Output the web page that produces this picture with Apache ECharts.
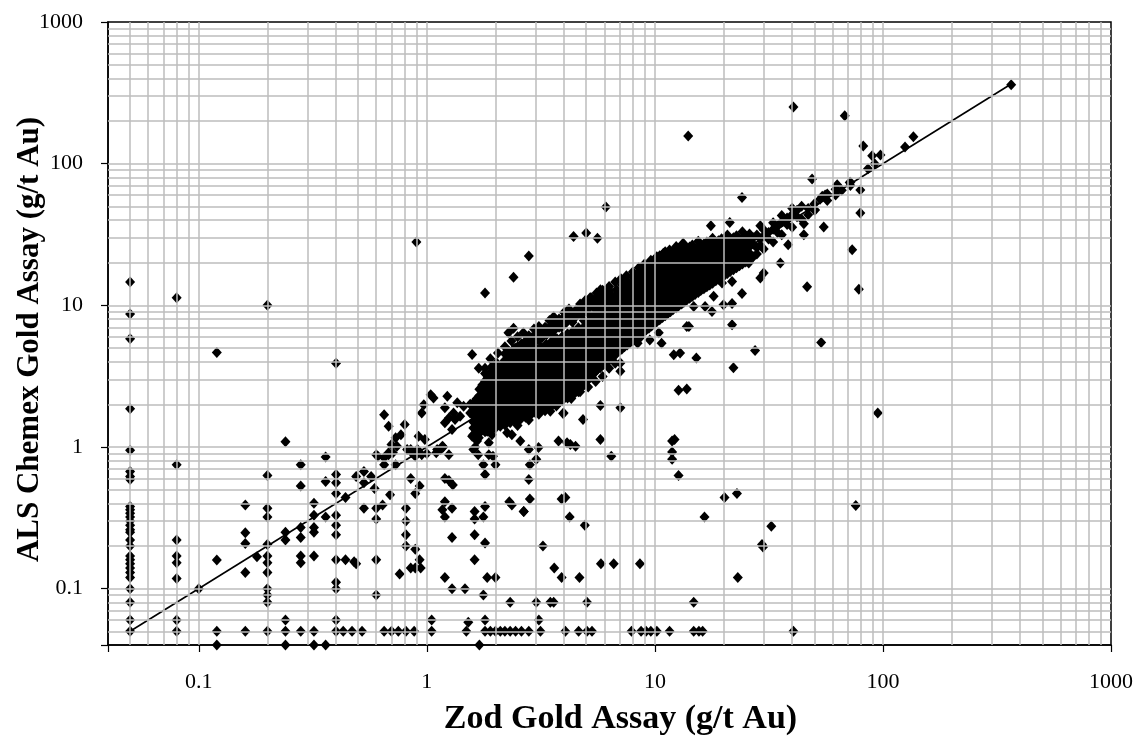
<!DOCTYPE html>
<html>
<head>
<meta charset="utf-8">
<script src="https://cdn.jsdelivr.net/npm/echarts@6/dist/echarts.min.js"></script>
<style>
  html, body { margin: 0; padding: 0; background: #fff; }
  #chart { width: 1142px; height: 742px; }
</style>
</head>
<body>
<div id="chart"></div>
<script>
// Zod vs ALS Chemex gold assays (g/t Au), log-log check plot

const tickLabels = ['0.1', '1', '10', '100', '1000'];
const gridDecades = [0.01, 0.1, 1, 10, 100];
const gridSteps = [5, 6, 7, 8, 9, 10, 20, 30, 40, 50, 60, 70, 80, 90];

// samples with Zod value at detection level 0.05 and other low Zod values
const lowZod = [
  [0.05,14.6],[0.05,8.7],[0.05,5.8],[0.05,1.86],[0.05,0.95],[0.05,0.67],[0.05,0.62],[0.05,0.59],
  [0.05,0.38],[0.05,0.36],[0.05,0.34],[0.05,0.32],[0.05,0.3],[0.05,0.28],[0.05,0.26],[0.05,0.25],
  [0.05,0.22],[0.05,0.2],[0.05,0.17],[0.05,0.16],[0.05,0.15],[0.05,0.14],[0.05,0.13],[0.05,0.12],
  [0.05,0.1],[0.05,0.08],[0.05,0.06],[0.05,0.05],
  [0.08,11.3],[0.08,0.75],[0.08,0.22],[0.08,0.17],[0.08,0.152],[0.08,0.118],[0.08,0.06],[0.08,0.05],
  [0.1,0.1],
  [0.12,4.65],[0.12,0.159],[0.12,0.05],[0.12,0.04],
  [0.16,0.39],[0.16,0.248],[0.16,0.208],[0.16,0.13],[0.16,0.05],[0.18,0.168],
  [0.2,10],[0.2,0.63],[0.2,0.37],[0.2,0.32],[0.2,0.205],[0.2,0.17],[0.2,0.152],[0.2,0.13],
  [0.2,0.1],[0.2,0.09],[0.2,0.08],[0.2,0.05],
  [0.24,1.09],[0.24,0.25],[0.24,0.22],[0.24,0.06],[0.24,0.05],[0.24,0.04],
  [0.28,0.75],[0.28,0.53],[0.28,0.27],[0.28,0.23],[0.28,0.17],[0.28,0.152],[0.28,0.05],
  [0.32,0.4],[0.32,0.33],[0.32,0.27],[0.32,0.25],[0.32,0.17],[0.32,0.05],[0.32,0.04],
  [0.36,0.85],[0.36,0.57],[0.36,0.32],[0.36,0.04],
  [0.4,3.9],[0.4,0.64],[0.4,0.56],[0.4,0.47],[0.4,0.33],[0.4,0.28],[0.4,0.24],[0.4,0.16],
  [0.4,0.111],[0.4,0.1],[0.4,0.06],[0.4,0.05]
];

// scattered pairs between 0.4 and 3 g/t, mostly below the 1:1 line
const midScatter = [
  [0.44,0.16],[0.48,0.155],[0.49,0.15],[0.44,0.44],[0.49,0.62],[0.53,0.67],[0.57,0.62],[0.53,0.56],
  [0.59,0.51],[0.53,0.37],[0.6,0.37],[0.64,0.39],[0.6,0.31],[0.6,0.16],[0.6,0.09],[0.69,0.46],
  [0.43,0.05],[0.47,0.05],[0.52,0.05],[0.65,0.05],[0.7,0.05],[0.75,0.05],[0.81,0.05],[0.88,0.05],
  [1.05,0.05],[1.05,0.06],
  [0.85,0.6],[0.81,0.37],[0.81,0.3],[0.81,0.24],[0.81,0.2],[0.89,0.19],[0.93,0.53],[0.89,0.47],
  [0.93,0.16],[0.76,0.127],[0.85,0.14],[0.89,0.14],[0.94,0.14],
  [1.2,0.6],[1.25,0.58],[1.3,0.54],[1.2,0.41],[1.17,0.36],[1.2,0.32],[1.29,0.37],[1.29,0.23],
  [1.2,0.12],[1.29,0.1],[1.47,0.1],
  [1.62,0.35],[1.62,0.31],[1.77,0.32],[1.8,0.38],[1.62,0.24],[1.8,0.21],[1.62,0.16],[1.84,0.12],
  [2.0,0.12],[1.77,0.09],[2.32,0.08],[2.3,0.41],[2.36,0.39],[2.66,0.35],[1.8,0.64],
  [1.52,0.058],[1.49,0.05],[1.7,0.04],[1.8,0.06],
  [1.8,0.05],[1.9,0.05],[2.0,0.05],[2.1,0.05],[2.2,0.05],[2.32,0.05],[2.45,0.05],[2.6,0.05],
  [2.8,0.05],[3.15,0.05],
  [0.61,0.86],[0.65,0.84],[0.68,0.88],[0.71,0.91],[0.65,0.75],[0.73,0.75],[0.85,0.96],[0.89,0.86],
  [0.95,0.88],[1.0,0.9],[1.1,0.91],[1.15,0.96],
  [0.65,1.69],[0.68,1.4],[0.8,1.44],[0.73,1.16],[0.77,1.22],[0.7,1.04],[0.74,1.01],[0.92,1.19],
  [0.98,1.13],[0.97,1.99],[1.04,2.34],[1.07,2.22],[0.95,1.74],[1.2,1.89],[1.25,1.6],[1.31,1.74],
  [1.45,1.94],[1.55,1.74],[1.2,1.48],[1.29,1.33],[0.6,0.88],[0.68,0.91],[0.82,0.96],[0.86,0.91],
  [0.91,0.96],[1.11,0.96],[1.17,1.01],[1.58,1.19],[1.66,1.1],[1.84,1.29],[1.93,1.22],[2.25,1.26],
  [2.57,1.1],[2.36,1.22],[1.23,2.28],[1.36,2.05],[1.55,2.0],[1.66,2.0],
  [1.6,0.96],[1.68,0.88],[1.87,0.88],[1.95,0.86],[2.0,0.75],[1.77,0.75],
  [1.69,1.16],[1.63,1.0],[1.87,1.07],[1.18,1.0],[1.25,0.88],[1.33,1.56],[1.4,1.65],
  [1.58,4.5],[1.69,3.6],[1.8,3.6],[1.93,3.7],[2.03,3.9],[2.28,6.4],[2.44,5.0],[2.61,4.6],[2.57,4.25],
  [2.4,6.9],[0.9,28],[1.8,12.2],[2.4,15.8],[2.8,22.3]
];

// scattered pairs from 3 g/t upward, away from the main band
const highScatter = [
  [3.02,0.08],[3.48,0.08],[3.6,0.08],[5.04,0.08],[14.8,0.08],[3.1,0.06],
  [4.05,0.05],[4.63,0.05],[5.04,0.05],[5.3,0.05],[7.9,0.05],[8.7,0.05],[9.15,0.05],[9.6,0.05],
  [10.2,0.05],[11.6,0.05],[14.8,0.05],[15.6,0.05],[16.2,0.05],[40.5,0.05],
  [2.83,0.43],[3.9,0.43],[4.05,0.44],[2.66,0.35],[2.8,0.59],[4.23,0.32],[4.93,0.28],[3.23,0.2],
  [3.62,0.14],[3.9,0.12],[4.67,0.12],[5.8,0.15],[6.6,0.15],[8.6,0.15],
  [2.8,0.96],[2.83,0.75],[3.02,0.82],[3.09,0.99],[3.78,1.1],[4.12,1.07],[4.26,1.04],[4.49,1.01],
  [5.77,1.13],[6.44,0.86],[11.9,1.1],[11.9,0.92],[11.9,0.82],[12.7,0.63],[12.2,1.13],
  [3.98,1.74],[3.48,1.79],[3.96,1.72],[4.84,1.56],[5.77,1.96],[7.06,1.89],
  [20.2,0.44],[22.9,0.47],[16.5,0.32],[23.1,0.12],[29.5,0.205],[29.8,0.197],[32.4,0.276],
  [76,0.387],[94.9,1.74],[53.6,5.47],[27.5,4.8],[22.1,3.63],
  [12.1,4.48],[12.9,4.61],[12.7,2.51],[13.8,2.57],[15.2,4.25],[14.1,7.1],[13.8,7.1],
  [7.06,3.92],[7.06,3.42],[5.3,3.33],[7.8,6.4],[8.4,5.4],[8.6,5.9],[9.5,5.7],[10.4,6.4],[10.7,5.4],
  [4.4,30.6],[5.0,32.4],[5.6,29.8],[6.1,49.5],[14,157],
  [14.5,11.6],[14.8,9.8],[16.6,9.8],[17.8,9.06],[18.1,11.6],[20,10.1],[21.8,10.3],[21.8,7.3],
  [19.7,14.4],[21.8,14.7],[24.1,12.1],[25.8,19.9],[29,15.6],[30,16.9],[35.5,19.9],[38.4,26.8],
  [45,37.6],[45,31.5],[55,35.7],[24.1,57.7],[17.6,36.4],[21.3,38.5],
  [46.5,13.5],[78.4,13],[73.3,24.7],[79.6,44.8],[79.6,65.3],[71.5,73.6],[63,71],[48.9,77.8],
  [50.4,47.1],[54.2,58.8],[55.8,60.1],[63,64],[86,92],[92,100],
  [40.5,251],[68,218],[82,133],[89.7,113.5],[97.5,115],[125,131],[136,155],[365,360]
];

// upper and lower fringe of the main band
const bandFringe = [
  [1.9,4.2],[2.05,4.6],[2.2,5.1],[2.35,5.6],[2.5,6.0],[2.65,6.4],[2.8,6.1],[2.95,6.8],[3.1,7.1],
  [3.3,7.0],[3.45,7.8],[3.6,8.3],[3.8,8.0],[4.0,8.9],[4.2,9.4],[4.45,9.0],[4.7,10.2],[4.95,10.8],
  [5.25,11.3],[5.55,12.2],[5.9,12.8],[6.3,13.6],[6.7,14.6],[7.1,15.4],[7.5,16.2],[8.0,17.2],
  [8.5,18.4],[9.0,19.6],[9.6,20.8],[10.2,22.0],[10.9,23.3],[11.6,24.6],[12.4,26.0],[13.3,27.4],
  [3.55,6.2],[3.9,7.0],[4.35,7.6],[4.8,8.6],[5.2,11.3],[5.77,12.9],[6.34,12.7],[6.94,12.2],
  [7.3,14.7],[8.1,14.4],[8.8,16.0],[9.5,19.3],[11.2,21.6],[10.6,16.9],[14.2,24.4],
  [2.5,1.42],[2.8,1.55],[3.1,1.7],[3.3,1.8],[3.7,1.95],[4.3,2.2],[4.7,2.45],[5.1,2.65],
  [5.5,2.9],[5.9,3.15],[6.3,3.6],[6.7,3.9]
];

// upper part of the band between 2 and 6 g/t
const bandUpper = [
  [2.2,4.1],[2.2,4.55],[2.3,4.25],[2.3,4.7],[2.4,4.45],[2.4,4.9],[2.5,4.6],[2.5,5.1],
  [2.6,4.8],[2.6,5.35],[2.7,5.0],[2.7,5.55],[2.8,5.2],[2.8,5.75],[2.9,5.35],[2.9,5.95],
  [3.0,5.55],[3.0,6.15],[3.1,5.75],[3.1,6.35],[3.2,5.9],[3.2,6.55],[3.35,6.2],[3.35,6.85],
  [3.5,6.45],[3.5,7.15],[3.65,6.75],[3.65,7.5],[3.8,7.0],[3.8,7.8],[3.95,7.3],[3.95,8.1],
  [4.1,7.6],[4.1,8.4],[4.3,7.95],[4.3,8.8],[4.5,8.3],[4.5,9.2],[4.7,8.7],[4.7,9.6],
  [4.9,9.05],[4.9,10.0],[5.1,9.4],[5.1,10.4],[5.35,9.9],[5.35,10.9],[5.6,10.3],[5.6,11.4],
  [5.9,10.9],[5.9,12.0],[6.2,11.5],[6.2,12.6]
];

// dense band along the 1:1 line: each row is a Zod value and the matching ALS values
const bandColumns = [
  [1.6, [1.22, 1.36, 1.5, 1.66, 1.84, 2.04]],
  [1.65, [1.17, 1.3, 1.44, 1.6, 1.77, 1.97, 2.18]],
  [1.7, [1.25, 1.38, 1.53, 1.7, 1.88, 2.08, 2.3, 2.56]],
  [1.75, [1.33, 1.47, 1.63, 1.81, 2.0, 2.22, 2.47, 2.74]],
  [1.8, [1.28, 1.42, 1.57, 1.74, 1.93, 2.14, 2.37, 2.63, 2.92, 3.3]],
  [1.85, [1.36, 1.51, 1.67, 1.85, 2.05, 2.28, 2.53, 2.8, 3.12]],
  [1.9, [1.3, 1.45, 1.61, 1.78, 1.98, 2.2, 2.44, 2.7, 3.0, 3.35]],
  [1.95, [1.4, 1.55, 1.72, 1.9, 2.1, 2.34, 2.6, 2.88, 3.2]],
  [2.0, [1.36, 1.5, 1.66, 1.84, 2.04, 2.27, 2.52, 2.8, 3.1, 3.45, 3.85]],
  [2.05, [1.44, 1.6, 1.77, 1.96, 2.18, 2.42, 2.68, 2.98, 3.3, 3.65]],
  [2.1, [1.4, 1.55, 1.71, 1.9, 2.1, 2.33, 2.59, 2.87, 3.2, 3.55]],
  [2.15, [1.48, 1.64, 1.82, 2.02, 2.24, 2.48, 2.76, 3.06, 3.4, 3.8]],
  [2.2, [1.43, 1.58, 1.75, 1.94, 2.16, 2.4, 2.66, 2.95, 3.28, 3.64, 4.05]],
  [2.26, [1.52, 1.68, 1.87, 2.07, 2.3, 2.55, 2.83, 3.14, 3.49, 3.88]],
  [2.32, [1.48, 1.64, 1.82, 2.01, 2.23, 2.48, 2.75, 3.05, 3.39, 3.76, 4.2]],
  [2.38, [1.56, 1.73, 1.92, 2.13, 2.37, 2.63, 2.92, 3.24, 3.6, 4.0]],
  [2.44, [1.52, 1.69, 1.87, 2.08, 2.31, 2.56, 2.84, 3.15, 3.5, 3.88, 4.3]],
  [2.5, [1.6, 1.78, 1.98, 2.2, 2.44, 2.71, 3.0, 3.33, 3.7, 4.1]],
  [2.57, [1.56, 1.73, 1.92, 2.13, 2.37, 2.63, 2.92, 3.24, 3.6, 4.0, 4.45]],
  [2.64, [1.66, 1.84, 2.04, 2.27, 2.52, 2.8, 3.1, 3.44, 3.82, 4.25]],
  [2.71, [1.62, 1.8, 2.0, 2.22, 2.46, 2.73, 3.03, 3.37, 3.74, 4.15, 4.6]],
  [2.78, [1.72, 1.9, 2.12, 2.35, 2.6, 2.89, 3.21, 3.56, 3.95, 4.4]],
  [2.85, [1.68, 1.86, 2.07, 2.3, 2.55, 2.83, 3.14, 3.48, 3.87, 4.3, 4.75]],
  [2.93, [1.78, 1.98, 2.2, 2.44, 2.7, 3.0, 3.33, 3.7, 4.1, 4.55]],
  [3.0, [1.74, 1.93, 2.14, 2.38, 2.64, 2.93, 3.25, 3.61, 4.0, 4.45, 4.95]],
  [3.08, [1.85, 2.05, 2.28, 2.53, 2.8, 3.11, 3.46, 3.84, 4.26, 4.73]],
  [3.16, [1.8, 2.0, 2.22, 2.46, 2.73, 3.03, 3.37, 3.74, 4.15, 4.6, 5.1]],
  [3.25, [1.92, 2.13, 2.36, 2.62, 2.91, 3.23, 3.58, 3.98, 4.42, 4.9]],
  [3.34, [1.88, 2.08, 2.31, 2.56, 2.84, 3.16, 3.5, 3.89, 4.32, 4.8, 5.3]],
  [3.43, [2.0, 2.22, 2.46, 2.73, 3.03, 3.37, 3.74, 4.15, 4.6, 5.1]],
  [3.52, [1.95, 2.17, 2.4, 2.67, 2.96, 3.29, 3.65, 4.05, 4.5, 5.0, 5.55]],
  [3.62, [2.08, 2.31, 2.56, 2.84, 3.15, 3.5, 3.88, 4.31, 4.78, 5.3]],
  [3.72, [2.04, 2.26, 2.51, 2.79, 3.1, 3.44, 3.82, 4.24, 4.7, 5.2, 5.8]],
  [3.82, [2.18, 2.42, 2.68, 2.98, 3.3, 3.67, 4.07, 4.52, 5.0, 5.55]],
  [3.92, [2.12, 2.35, 2.61, 2.9, 3.22, 3.57, 3.96, 4.4, 4.88, 5.4, 6.0]],
  [4.03, [2.27, 2.52, 2.8, 3.1, 3.44, 3.82, 4.24, 4.7, 5.22, 5.8]],
  [4.14, [2.22, 2.46, 2.73, 3.03, 3.37, 3.74, 4.15, 4.6, 5.1, 5.67, 6.3]],
  [4.26, [2.38, 2.64, 2.93, 3.25, 3.61, 4.0, 4.44, 4.93, 5.47, 6.07]],
  [4.38, [2.33, 2.59, 2.87, 3.19, 3.54, 3.93, 4.36, 4.84, 5.37, 5.96, 6.6]],
  [4.5, [2.5, 2.77, 3.08, 3.42, 3.8, 4.22, 4.68, 5.2, 5.77, 6.4]],
  [4.62, [2.45, 2.72, 3.02, 3.35, 3.72, 4.13, 4.58, 5.08, 5.64, 6.26, 6.95]],
  [4.75, [2.62, 2.9, 3.22, 3.58, 3.97, 4.41, 4.9, 5.44, 6.03, 6.7]],
  [4.88, [2.74, 3.04, 3.38, 3.75, 4.16, 4.62, 5.12, 5.69, 6.31, 7.0, 7.8]],
  [5.02, [2.9, 3.22, 3.57, 3.96, 4.4, 4.88, 5.42, 6.01, 6.67, 7.4]],
  [5.16, [3.05, 3.38, 3.75, 4.17, 4.62, 5.13, 5.7, 6.32, 7.02, 7.8, 8.6]],
  [5.3, [3.2, 3.55, 3.94, 4.38, 4.86, 5.39, 5.98, 6.64, 7.37, 8.2]],
  [5.45, [3.35, 3.72, 4.13, 4.58, 5.09, 5.65, 6.27, 6.96, 7.72, 8.57, 9.5]],
  [5.6, [3.52, 3.91, 4.34, 4.81, 5.34, 5.93, 6.58, 7.3, 8.1, 9.0]],
  [5.76, [3.62, 4.02, 4.46, 4.95, 5.5, 6.1, 6.77, 7.52, 8.34, 9.26, 10.3]],
  [5.92, [3.8, 4.22, 4.68, 5.2, 5.77, 6.4, 7.1, 7.89, 8.76, 9.72]],
  [6.08, [3.9, 4.33, 4.81, 5.34, 5.92, 6.57, 7.3, 8.1, 9.0, 9.98, 11.1]],
  [6.25, [4.1, 4.55, 5.05, 5.6, 6.22, 6.9, 7.66, 8.5, 9.44, 10.5]],
  [6.42, [4.2, 4.66, 5.18, 5.75, 6.38, 7.08, 7.86, 8.72, 9.68, 10.7, 11.9]],
  [6.6, [4.42, 4.9, 5.44, 6.04, 6.7, 7.44, 8.26, 9.17, 10.2, 11.3]],
  [6.78, [4.55, 5.05, 5.6, 6.22, 6.9, 7.66, 8.5, 9.44, 10.5, 11.6, 12.9]],
  [6.97, [4.75, 5.27, 5.85, 6.5, 7.2, 8.0, 8.88, 9.86, 10.9, 12.1]],
  [7.16, [4.9, 5.44, 6.04, 6.7, 7.44, 8.26, 9.17, 10.2, 11.3, 12.5, 13.9]],
  [7.36, [5.1, 5.66, 6.28, 6.97, 7.74, 8.59, 9.53, 10.6, 11.7, 13.0]],
  [7.56, [5.25, 5.83, 6.47, 7.18, 7.97, 8.85, 9.82, 10.9, 12.1, 13.4, 14.9]],
  [7.77, [5.45, 6.05, 6.72, 7.46, 8.28, 9.19, 10.2, 11.3, 12.6, 14.0]],
  [7.99, [5.62, 6.24, 6.93, 7.69, 8.54, 9.48, 10.5, 11.7, 13.0, 14.4, 16.0]],
  [8.21, [5.8, 6.44, 7.15, 7.94, 8.81, 9.78, 10.9, 12.1, 13.4, 14.9]],
  [8.44, [6.0, 6.66, 7.39, 8.2, 9.1, 10.1, 11.2, 12.4, 13.8, 15.3, 17.0]],
  [8.67, [6.25, 6.94, 7.7, 8.55, 9.49, 10.5, 11.7, 13.0, 14.4, 16.0]],
  [8.91, [6.45, 7.16, 7.95, 8.82, 9.79, 10.9, 12.1, 13.4, 14.9, 16.5, 18.3]],
  [9.16, [6.7, 7.44, 8.26, 9.17, 10.2, 11.3, 12.5, 13.9, 15.4, 17.1]],
  [9.41, [6.9, 7.66, 8.5, 9.44, 10.5, 11.6, 12.9, 14.3, 15.9, 17.6, 19.5]],
  [9.67, [7.15, 7.94, 8.81, 9.78, 10.9, 12.1, 13.4, 14.9, 16.5, 18.3]],
  [9.94, [7.4, 8.21, 9.11, 10.1, 11.2, 12.5, 13.8, 15.3, 17.0, 18.9, 21.0]],
  [10.2, [7.65, 8.49, 9.42, 10.5, 11.6, 12.9, 14.3, 15.9, 17.6, 19.5]],
  [10.5, [7.9, 8.77, 9.73, 10.8, 12.0, 13.3, 14.8, 16.4, 18.2, 20.2, 22.4]],
  [10.8, [8.2, 9.1, 10.1, 11.2, 12.4, 13.8, 15.3, 17.0, 18.9, 21.0]],
  [11.1, [8.45, 9.38, 10.4, 11.6, 12.8, 14.2, 15.8, 17.5, 19.4, 21.6, 23.9]],
  [11.4, [8.75, 9.71, 10.8, 12.0, 13.3, 14.7, 16.3, 18.1, 20.1, 22.3]],
  [11.7, [9.0, 9.99, 11.1, 12.3, 13.7, 15.2, 16.8, 18.7, 20.7, 23.0]],
  [12.0, [9.3, 10.3, 11.5, 12.7, 14.1, 15.7, 17.4, 19.3, 21.4, 23.8]],
  [12.4, [9.6, 10.7, 11.8, 13.1, 14.6, 16.2, 17.9, 19.9, 22.1]],
  [12.7, [9.9, 11.0, 12.2, 13.5, 15.0, 16.7, 18.5, 20.6, 22.8, 25.3]],
  [13.1, [10.2, 11.3, 12.6, 14.0, 15.5, 17.2, 19.1, 21.2, 23.5]],
  [13.4, [10.5, 11.7, 12.9, 14.4, 15.9, 17.7, 19.6, 21.8, 24.2, 26.8]],
  [13.8, [10.9, 12.1, 13.4, 14.9, 16.5, 18.3, 20.3, 22.6, 25.0]],
  [14.2, [11.2, 12.4, 13.8, 15.3, 17.0, 18.9, 20.9, 23.2, 25.8]],
  [14.6, [11.6, 12.9, 14.3, 15.9, 17.6, 19.5, 21.7, 24.1, 26.7]],
  [15.0, [11.9, 13.2, 14.7, 16.3, 18.1, 20.1, 22.3, 24.7]],
  [15.5, [12.3, 13.7, 15.2, 16.8, 18.7, 20.7, 23.0, 25.5, 28.3]],
  [15.9, [12.7, 14.1, 15.6, 17.3, 19.2, 21.3, 23.7, 26.3]],
  [16.4, [13.1, 14.5, 16.1, 17.9, 19.8, 22.0, 24.4, 27.1]],
  [16.9, [13.5, 15.0, 16.6, 18.4, 20.5, 22.7, 25.2, 28.0]],
  [17.4, [13.9, 15.4, 17.1, 19.0, 21.1, 23.4, 26.0]],
  [17.9, [14.3, 15.9, 17.6, 19.6, 21.7, 24.1, 26.8, 29.7]],
  [18.5, [14.9, 16.5, 18.3, 20.3, 22.5, 25.0, 27.8]],
  [19.0, [15.3, 17.0, 18.9, 20.9, 23.2, 25.8, 28.6]],
  [19.6, [15.8, 17.5, 19.5, 21.6, 24.0, 26.6, 29.5]],
  [20.2, [16.3, 18.1, 20.1, 22.3, 24.7, 27.4]],
  [20.8, [16.8, 18.6, 20.7, 22.9, 25.5, 28.3, 31.4]],
  [21.4, [17.3, 19.2, 21.3, 23.6, 26.2, 29.1]],
  [22.1, [17.8, 19.8, 22.0, 24.4, 27.0, 30.0]],
  [22.8, [18.4, 20.4, 22.7, 25.2, 27.9, 31.0]],
  [23.5, [19.0, 21.1, 23.4, 26.0, 28.8]],
  [24.2, [19.6, 21.8, 24.2, 26.8, 29.8, 33.0]],
  [25.0, [20.2, 22.4, 24.9, 27.6, 30.7]],
  [26, [21.0, 23.3, 25.9, 28.7, 31.9]],
  [27, [22.0, 27.1, 30.0]],
  [28, [23.0, 25.5, 31.4]],
  [29, [26.6, 29.5, 36.4]],
  [30, [25.0, 30.8, 34.2]],
  [31.5, [29.4, 32.6]],
  [33, [28.0, 34.5, 38.3]],
  [34.5, [32.7, 36.3]],
  [36, [31.5, 38.8, 43.0]],
  [38, [37.2, 41.3]],
  [40, [35.5, 43.7, 48.5]],
  [42, [42.2, 46.8]],
  [44, [40.5, 50.0]],
  [47, [43.5, 48.3]],
  [50, [47.0, 52.0]],
  [53, [56.0]],
  [57, [55.0, 61.0]],
  [62, [60.0, 66.0]],
  [66, [65.0]],
  [72, [70.0, 74.0]]
];

// 1:1 reference line end points
const equalityLine = [[0.05, 0.05], [365, 365]];

const bandPoints = [];
bandColumns.forEach(([x, ys]) => ys.forEach(y => bandPoints.push([x, y])));
const allPoints = lowZod.concat(midScatter, highScatter, bandFringe, bandUpper, bandPoints);

const gridValues = [];
gridDecades.forEach(d => gridSteps.forEach(s => {
  const v = +(d * s).toPrecision(6);
  if (v >= 0.05 && v < 1000 && gridValues.indexOf(v) < 0) gridValues.push(v);
}));

const serif = '"Liberation Serif", "Times New Roman", serif';
const labelFmt = v => {
  const s = String(+Number(v).toPrecision(6));
  return tickLabels.indexOf(s) >= 0 ? s : '';
};

const axisCommon = {
  type: 'log',
  logBase: 10,
  min: 0.04,
  max: 1000,
  nameMoveOverlap: false,
  splitLine: { show: false },
  minorSplitLine: { show: false },
  axisLine: { show: true, onZero: false, lineStyle: { color: '#000', width: 1.5 } },
  axisTick: { show: true, inside: false, length: 7, lineStyle: { color: '#000', width: 1.2 } },
  axisLabel: { color: '#000', fontFamily: serif, fontSize: 22, formatter: labelFmt },
  nameTextStyle: { color: '#000', fontFamily: serif, fontWeight: 'bold' }
};

const chart = echarts.init(document.getElementById('chart'), null, { renderer: 'canvas' });
chart.setOption({
  animation: false,
  backgroundColor: '#fff',
  grid: {
    left: 108, right: 31, top: 22, bottom: 97,
    containLabel: false, outerBoundsMode: 'none',
    show: true, borderColor: '#000', borderWidth: 1.5, backgroundColor: 'transparent'
  },
  xAxis: Object.assign({}, axisCommon, {
    name: 'Zod Gold Assay (g/t Au)', nameLocation: 'middle', nameGap: 57,
    nameTextStyle: Object.assign({}, axisCommon.nameTextStyle, { fontSize: 34, padding: [0, 0, 0, 22] }),
    axisLabel: Object.assign({}, axisCommon.axisLabel, { margin: 26 })
  }),
  yAxis: Object.assign({}, axisCommon, {
    name: 'ALS Chemex Gold Assay (g/t Au)', nameLocation: 'middle', nameGap: 63, nameRotate: 90,
    nameTextStyle: Object.assign({}, axisCommon.nameTextStyle, { fontSize: 31, padding: [0, 12, 0, 0] }),
    axisLabel: Object.assign({}, axisCommon.axisLabel, { margin: 25 })
  }),
  series: [
    {
      type: 'line', data: [], z: 1, silent: true,
      markLine: {
        silent: true, symbol: ['none', 'none'], animation: false,
        label: { show: false }, emphasis: { disabled: true },
        lineStyle: { color: '#bcbcbc', width: 1.5, type: 'solid' },
        data: gridValues.map(v => ({ xAxis: v })).concat(gridValues.map(v => ({ yAxis: v })))
      }
    },
    {
      type: 'line', data: equalityLine, z: 2, silent: true, showSymbol: false, symbol: 'none',
      lineStyle: { color: '#000', width: 1.6 }
    },
    {
      type: 'scatter', data: allPoints, z: 3, symbol: 'diamond', symbolSize: [10, 11],
      itemStyle: { color: '#000', opacity: 1 }, silent: true, large: false
    }
  ]
});
</script>
</body>
</html>
